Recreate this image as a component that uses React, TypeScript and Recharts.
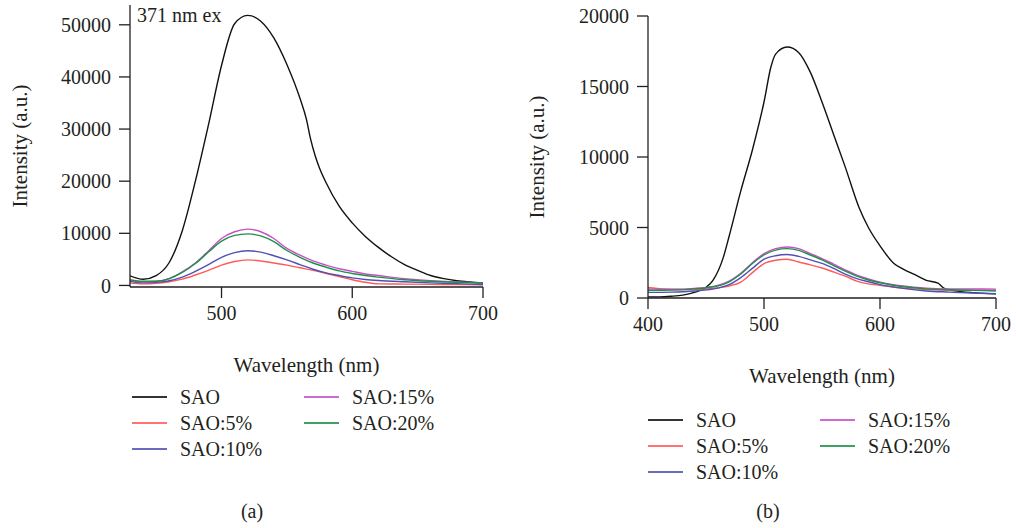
import { LineChart, Line, XAxis, YAxis, Legend } from 'recharts';

const FONT = '"Liberation Serif", "DejaVu Serif", "Noto Serif", serif';
const INK = '#231f20';

const SERIES_NAMES = ['SAO', 'SAO:5%', 'SAO:10%', 'SAO:15%', 'SAO:20%'];
const SERIES_COLORS = ['#111111', '#ff5a5a', '#5050b4', '#c94fc9', '#1d9148'];

// (a) 371 nm ex
const aSaoWl = [430, 440, 450, 460, 470, 480, 490, 500, 510, 520, 530, 540, 550, 560, 565, 568, 572, 575, 580, 590, 600, 610, 620, 630, 640, 650, 660, 670, 680, 690, 700];
const aSao = [1850, 1200, 1900, 4400, 10500, 20000, 30800, 42200, 50200, 51800, 50700, 47500, 42400, 35900, 31800, 28200, 24600, 22500, 19700, 15200, 12000, 9400, 7300, 5500, 4000, 2900, 1900, 1300, 900, 650, 460];
const aDopedWl = [430, 440, 450, 460, 470, 480, 490, 500, 510, 520, 530, 540, 550, 560, 570, 580, 590, 600, 610, 620, 640, 660, 680, 700];
const aSao5 = [450, 300, 400, 700, 1200, 2000, 2900, 3900, 4600, 4900, 4700, 4300, 3900, 3400, 2900, 2300, 1700, 1100, 600, 300, 250, 200, 150, 100];
const aSao10 = [800, 500, 600, 900, 1600, 2700, 4000, 5400, 6300, 6650, 6400, 5700, 4900, 4000, 3100, 2400, 1900, 1450, 1150, 950, 700, 500, 350, 150];
const aSao15 = [1000, 700, 800, 1300, 2600, 4300, 6600, 9000, 10300, 10800, 10300, 9000, 7100, 5800, 4700, 3900, 3200, 2700, 2200, 1900, 1300, 900, 650, 450];
const aSao20 = [1100, 800, 800, 1300, 2500, 4200, 6400, 8500, 9600, 9900, 9500, 8400, 6700, 5400, 4300, 3500, 2800, 2300, 1900, 1600, 1100, 800, 600, 480];
const aXTicks = [500, 600, 700];
const aYTicks = [0, 10000, 20000, 30000, 40000, 50000];

// (b)
const bSaoWl = [400, 410, 420, 430, 440, 450, 456, 465, 470, 480, 490, 500, 506, 510, 520, 530, 540, 550, 560, 570, 582, 590, 600, 612, 620, 630, 640, 650, 655, 660, 670, 680, 690, 700];
const bSao = [80, 80, 120, 200, 400, 750, 1250, 2900, 4400, 7600, 10500, 13900, 16400, 17300, 17800, 17400, 16000, 13900, 11600, 9300, 6400, 5000, 3700, 2450, 2050, 1650, 1250, 1050, 700, 580, 450, 380, 330, 300];
const bDopedWl = [400, 420, 440, 460, 470, 480, 490, 500, 510, 520, 530, 540, 550, 560, 570, 580, 590, 600, 620, 640, 660, 680, 700];
const bSao5 = [740, 600, 600, 720, 850, 1130, 1800, 2440, 2680, 2750, 2550, 2350, 2130, 1850, 1550, 1200, 1000, 900, 700, 600, 560, 550, 550];
const bSao10 = [400, 420, 500, 700, 950, 1450, 2100, 2750, 3000, 3080, 2950, 2700, 2450, 2100, 1700, 1380, 1150, 950, 680, 500, 420, 350, 300];
const bSao15 = [650, 620, 680, 900, 1200, 1750, 2500, 3150, 3500, 3620, 3500, 3150, 2800, 2400, 2000, 1620, 1350, 1130, 850, 700, 650, 640, 630];
const bSao20 = [550, 560, 650, 850, 1150, 1700, 2450, 3050, 3400, 3500, 3380, 3050, 2700, 2300, 1900, 1550, 1280, 1080, 800, 650, 580, 540, 500];
const bXTicks = [400, 500, 600, 700];
const bYTicks = [0, 5000, 10000, 15000, 20000];

type Row = { wl: number; v: number };
const toRows = (wl: number[], vals: number[]): Row[] => wl.map((w, i) => ({ wl: w, v: vals[i] }));

const tickStyle = { fill: INK, fontSize: 20, fontFamily: FONT };
const axisStroke = { stroke: INK, strokeWidth: 1.3 };

function SpectrumLegend() {
  return (
    <div
      style={{
        display: 'grid',
        gridTemplateColumns: '172px 172px',
        gridTemplateRows: 'repeat(3, 26px)',
        gridAutoFlow: 'column',
        fontFamily: FONT,
        fontSize: 20,
        color: INK,
      }}
    >
      {SERIES_NAMES.map((name, i) => (
        <div key={name} style={{ display: 'flex', alignItems: 'center' }}>
          <span style={{ display: 'inline-block', width: 35, height: 2, background: SERIES_COLORS[i], opacity: 0.85, marginRight: 13 }} />
          <span>{name}</span>
        </div>
      ))}
    </div>
  );
}

interface PanelProps {
  series: Row[][];
  xDomain: [number, number];
  yDomain: [number, number];
  xTicks: number[];
  yTicks: number[];
  margin: { top: number; right: number; bottom: number; left: number };
  yAxisWidth: number;
  yLabelOffset: number;
  legendTop: number;
  legendLeft: number;
}

function SpectrumPanel({ series, xDomain, yDomain, xTicks, yTicks, margin, yAxisWidth, yLabelOffset, legendTop, legendLeft }: PanelProps) {
  return (
    <LineChart width={508} height={528} margin={margin}>
      <XAxis
        xAxisId="main"
        dataKey="wl"
        type="number"
        domain={xDomain}
        allowDataOverflow
        ticks={xTicks}
        tick={tickStyle}
        tickSize={11}
        tickMargin={8}
        axisLine={axisStroke}
        tickLine={axisStroke}
        height={90}
        label={{ value: 'Wavelength (nm)', position: 'insideTop', offset: 70, style: { fontFamily: FONT, fontSize: 21, fill: INK } }}
      />
      <XAxis xAxisId="frame" orientation="top" type="number" domain={xDomain} tick={false} tickLine={false} axisLine={axisStroke} height={0} />
      <YAxis
        yAxisId="main"
        type="number"
        domain={yDomain}
        allowDataOverflow
        ticks={yTicks}
        tick={tickStyle}
        tickSize={11}
        tickMargin={8}
        axisLine={axisStroke}
        tickLine={axisStroke}
        width={yAxisWidth}
        label={{
          value: 'Intensity (a.u.)',
          angle: -90,
          position: 'insideLeft',
          offset: yLabelOffset,
          style: { textAnchor: 'middle', fontFamily: FONT, fontSize: 21, fill: INK },
        }}
      />
      <YAxis yAxisId="frame" orientation="right" type="number" domain={yDomain} tick={false} tickLine={false} axisLine={axisStroke} width={0} />
      {series.map((rows, i) => (
        <Line
          key={SERIES_NAMES[i]}
          xAxisId="main"
          yAxisId="main"
          data={rows}
          dataKey="v"
          name={SERIES_NAMES[i]}
          type="monotone"
          stroke={SERIES_COLORS[i]}
          strokeWidth={1.4}
          dot={false}
          isAnimationActive={false}
        />
      ))}
      <Legend
        layout="horizontal"
        verticalAlign="middle"
        align="center"
        content={<SpectrumLegend />}
        wrapperStyle={{ top: legendTop, left: legendLeft, width: 360 }}
      />
    </LineChart>
  );
}

export default function App() {
  const aSeries = [
    toRows(aSaoWl, aSao),
    toRows(aDopedWl, aSao5),
    toRows(aDopedWl, aSao10),
    toRows(aDopedWl, aSao15),
    toRows(aDopedWl, aSao20),
  ];
  const bSeries = [
    toRows(bSaoWl, bSao),
    toRows(bDopedWl, bSao5),
    toRows(bDopedWl, bSao10),
    toRows(bDopedWl, bSao15),
    toRows(bDopedWl, bSao20),
  ];
  return (
    <div style={{ position: 'absolute', left: 0, top: 0, width: 1016, height: 528, background: '#fff', fontFamily: FONT, color: INK }}>
      <div style={{ position: 'absolute', left: 0, top: 0 }}>
        <SpectrumPanel
          series={aSeries}
          xDomain={[430, 700]}
          yDomain={[-300, 53800]}
          xTicks={aXTicks}
          yTicks={aYTicks}
          margin={{ top: 5, right: 25, bottom: 151, left: 0 }}
          yAxisWidth={130}
          yLabelOffset={20}
          legendTop={384}
          legendLeft={132}
        />
      </div>
      <div style={{ position: 'absolute', left: 508, top: 0 }}>
        <SpectrumPanel
          series={bSeries}
          xDomain={[400, 700]}
          yDomain={[0, 20000]}
          xTicks={bXTicks}
          yTicks={bYTicks}
          margin={{ top: 16, right: 20, bottom: 140, left: 0 }}
          yAxisWidth={140}
          yLabelOffset={29}
          legendTop={407}
          legendLeft={140}
        />
      </div>
      <div style={{ position: 'absolute', left: 137, top: 5, fontSize: 20, lineHeight: '20px' }}>371 nm ex</div>
      <div style={{ position: 'absolute', left: 232, width: 40, top: 501, textAlign: 'center', fontSize: 20, lineHeight: '20px' }}>(a)</div>
      <div style={{ position: 'absolute', left: 748, width: 40, top: 501, textAlign: 'center', fontSize: 20, lineHeight: '20px' }}>(b)</div>
    </div>
  );
}
